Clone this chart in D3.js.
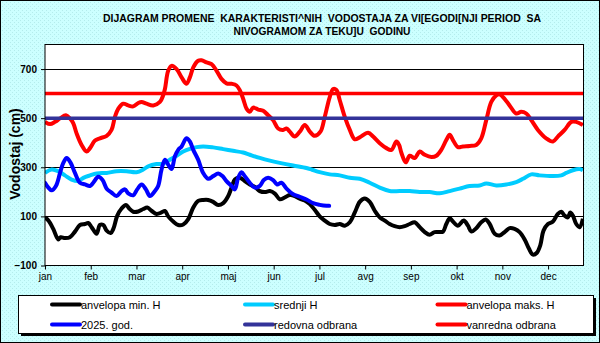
<!DOCTYPE html>
<html><head><meta charset="utf-8">
<script src="https://cdn.jsdelivr.net/npm/d3@7"></script>
<style>body{margin:0;padding:0;overflow:hidden}svg{display:block}</style>
</head><body>
<script>
const titleLines = ["DIJAGRAM PROMENE  KARAKTERISTI^NIH  VODOSTAJA ZA VI[EGODI[NJI PERIOD  SA", "NIVOGRAMOM ZA TEKU]U  GODINU"];
const yTitle = "Vodostaj (cm)";
const months = ["jan","feb","mar","apr","maj","jun","jul","avg","sep","okt","nov","dec"];
const yTicks = [-100, 100, 300, 500, 700];
const redovnaOdbrana = 500;
const vanrednaOdbrana = 600;

const maxDays = [0,3.4,6.8,10.2,14.2,16.9,19.2,21.4,24.8,28.2,30.5,33.9,37.2,41.8,45.1,47.4,49.7,53,56.4,59.8,63.2,65.5,68.8,73.4,77.9,80.1,81.3,83.5,85.8,89.2,92.6,95.9,98.2,100.5,103.8,106.1,109.5,112.9,116.3,119.6,123,126.4,129.8,132.1,134.3,136.6,138.8,141.1,144.5,147.9,151.2,154.6,158,161.4,163.7,165.9,169.3,172.7,176.1,179.5,182.8,186.7,189.6,193,195.3,197.5,199.8,203.2,206.6,210,213.3,219,222.4,226.9,231.4,234.8,238.2,240,241.6,244.5,247.2,250.6,254,257.4,261.9,265.3,268.6,272,274.3,276.5,279.9,283.3,287.8,292.3,295.7,299.1,302.5,305.9,308.1,311.5,314.9,319.4,322.8,326.2,329.6,334.1,339.7,344.3,347.6,352.2,356.7,360.1,364.6];
const maxVals = [485,476,485,499,512,499,479,438,391,364,378,409,418,428,452,505,539,559,552,548,562,566,559,552,566,593,619,693,713,700,666,640,666,707,734,736,727,720,693,660,642,640,633,613,579,539,526,543,535,530,512,492,458,452,458,445,425,445,472,445,428,445,505,586,619,615,573,505,452,414,422,441,425,398,378,371,405,391,358,320,347,338,364,351,342,347,371,411,432,411,382,385,387,391,418,492,566,593,597,579,552,519,526,519,492,452,418,405,425,452,485,485,472];

const meanDays = [0,4.5,9,13.5,18,22.6,26,30.5,35,41.8,48.5,55.3,62,66.6,70,75.6,80.1,84.7,89.2,93.7,98.2,102.7,107.2,114,120.8,127.5,134.3,138.8,145.6,152.4,159.1,168.2,177.2,181,186.2,193,199.8,206.6,213.3,220.1,226.9,233.6,240.4,247.2,254,260.7,267.5,274.3,281,287.8,294.6,299.1,305.9,312.7,319.4,324,329.6,335.2,344.3,349.9,353.3,357.8,362.3,364.6];
const meanVals = [277,291,284,267,250,244,257,267,275,277,284,284,280,291,304,313,315,331,347,364,375,382,385,381,374,367,360,351,338,327,318,307,297,290,280,271,267,257,253,237,217,203,203,203,199,199,194,203,213,224,226,234,226,230,240,253,271,267,264,267,277,288,293,288];

const minDays = [0,2.3,5.6,9,10.6,13.5,16.9,20.3,23.7,27.1,29.3,31.6,35,37.2,39.5,41.8,44.5,46.3,49,51.9,54.9,57.1,59.8,63.2,66.6,69.3,72.2,75.6,79,81.3,83.5,86.9,90.3,93.7,97.1,100.5,103.8,107.2,110.6,114,117.4,120.8,124.2,126.4,128.7,132.1,135.4,138.8,142.2,145.6,149,152.4,155.8,159.1,162.5,165.9,169.3,172.7,176.1,179.5,182.8,186.2,189.6,193,196.4,199.8,203.2,206.6,210,213.3,216.7,220.1,223.5,226.9,230.3,233.6,237,240.4,243.8,247.2,250.6,254,257.4,260.7,264.1,267.5,269.8,272,274.3,276.5,279.9,283.8,286.7,289,292.3,295.7,298.7,301.4,304.8,308.1,311.5,314.9,318.3,321.7,325.1,328,330.7,333.4,335.7,337.9,340.9,344.3,347.6,349.9,352.2,354.4,356,357.8,360.1,362.3,364.6];
const minVals = [96,83,49,6,15,12,15,38,65,69,73,56,29,65,65,42,32,49,103,132,146,132,119,120,130,136,123,110,116,122,100,79,65,67,89,136,163,167,167,159,146,154,183,217,250,257,244,230,220,203,199,203,193,170,177,187,183,172,165,150,127,100,83,69,65,69,62,76,116,159,173,159,123,96,83,69,60,56,60,69,76,56,36,25,36,36,38,69,92,79,62,83,62,38,52,76,87,69,29,22,36,52,49,36,6,-31,-56,-48,-18,42,69,79,110,119,103,96,116,103,69,56,90];

const curDays = [0,2.3,4.5,7.4,10.2,12.4,14.7,17.4,20.3,23.7,27.1,30.5,32.7,36.1,39,41.8,45.1,48.5,51.9,54.2,56.4,59.8,62.5,65.5,68.4,71.1,74.5,76.7,79,81.3,83.5,85.8,88,90.3,92.6,95.9,98.2,100.5,103.8,107.2,110.6,114,117.4,120.3,123,126.4,128.7,130.9,133.2,135.4,138.8,142.2,145.6,148.3,151.2,154.6,157.3,160.3,163.7,168.2,172.7,177.2,181.7,186.2,190.8,192.6];
const curVals = [237,217,206,224,277,318,338,318,277,237,230,224,237,261,248,213,197,183,203,210,194,186,210,230,210,183,203,224,291,331,311,293,344,371,385,418,405,371,331,277,253,264,275,264,244,224,210,257,280,264,237,217,224,248,257,248,230,237,213,190,180,169,154,147,143,143];

const W = 600, H = 343;
const svg = d3.select("body").append("svg").attr("width", W).attr("height", H);

const defs = svg.append("defs");
const pat = defs.append("pattern").attr("id","bgp").attr("width",4).attr("height",4).attr("patternUnits","userSpaceOnUse");
pat.append("rect").attr("width",4).attr("height",4).attr("fill","#ccffff");
pat.append("rect").attr("x",0).attr("y",0).attr("width",1).attr("height",1).attr("fill","#b4ecec");
pat.append("rect").attr("x",2).attr("y",2).attr("width",1).attr("height",1).attr("fill","#b4ecec");

svg.append("rect").attr("x",0.5).attr("y",0.5).attr("width",W-1).attr("height",H-1)
  .attr("fill","url(#bgp)").attr("stroke","#000").attr("stroke-width",1);

// title
const titleY = [22, 34.5];
const titleW = [438, 177];
titleLines.forEach((t,i)=>{
  svg.append("text").attr("x",322).attr("y",titleY[i]).attr("text-anchor","middle")
    .attr("xml:space","preserve").style("white-space","pre")
    .attr("font-family","Liberation Sans, Arial, sans-serif").attr("font-weight","bold").attr("font-size",11)
    .attr("textLength",titleW[i]).attr("lengthAdjust","spacingAndGlyphs").text(t);
});

const L = 45, R = 583.5, T = 44.5, B = 265.5;
const x = d3.scaleLinear().domain([0,365]).range([L,R]);
const y = d3.scaleLinear().domain([-100,800]).range([B,T]);

svg.append("rect").attr("x",L).attr("y",T).attr("width",R-L).attr("height",B-T).attr("fill","#fff");

// gridlines
svg.append("g").selectAll("line").data(yTicks.filter(v=>v>-100)).join("line")
  .attr("x1",L).attr("x2",R).attr("y1",d=>Math.round(y(d))+0.5).attr("y2",d=>Math.round(y(d))+0.5)
  .attr("stroke","#000").attr("stroke-width",1);

// y axis
const yAxis = svg.append("g").attr("transform",`translate(${L},0)`)
  .call(d3.axisLeft(y).tickValues(yTicks).tickSize(4).tickSizeOuter(0).tickPadding(4));
yAxis.select(".domain").remove();
yAxis.selectAll("text").attr("font-family","Liberation Sans, Arial, sans-serif").attr("font-weight","bold").attr("font-size",10).attr("fill","#000");

// x axis
const monthTicks = months.map((m,i)=>i*31);
const xAxis = svg.append("g").attr("transform",`translate(0,${B})`)
  .call(d3.axisBottom(x).tickValues(monthTicks).tickFormat((d,i)=>months[i]).tickSize(4).tickSizeOuter(0).tickPadding(3));
xAxis.select(".domain").remove();
xAxis.selectAll("text").attr("font-family","Liberation Sans, Arial, sans-serif").attr("font-size",10).attr("fill","#000");

// y title
svg.append("text").attr("transform","translate(20,154) rotate(-90)").attr("text-anchor","middle")
  .attr("font-family","Liberation Sans, Arial, sans-serif").attr("font-weight","bold").attr("font-size",14).text(yTitle);

// series
const line = d3.line().x(d=>x(d[0])).y(d=>y(d[1])).curve(d3.curveCatmullRom.alpha(0.5));
const zip = (a,b)=>a.map((d,i)=>[d,b[i]]);
const g = svg.append("g");
const clipId = "pc";
defs.append("clipPath").attr("id",clipId).append("rect").attr("x",L).attr("y",T).attr("width",R-L).attr("height",B-T);
g.attr("clip-path",`url(#${clipId})`);

g.append("path").datum(zip(minDays,minVals)).attr("d",line).attr("fill","none").attr("stroke","#000").attr("stroke-width",4).attr("stroke-linejoin","round");
g.append("path").datum(zip(meanDays,meanVals)).attr("d",line).attr("fill","none").attr("stroke","#00ccff").attr("stroke-width",4).attr("stroke-linejoin","round");
g.append("path").datum(zip(maxDays,maxVals)).attr("d",line).attr("fill","none").attr("stroke","#ff0000").attr("stroke-width",4).attr("stroke-linejoin","round");
g.append("line").attr("x1",L).attr("x2",R).attr("y1",y(redovnaOdbrana)).attr("y2",y(redovnaOdbrana)).attr("stroke","#333399").attr("stroke-width",3.5);
g.append("line").attr("x1",L).attr("x2",R).attr("y1",y(vanrednaOdbrana)).attr("y2",y(vanrednaOdbrana)).attr("stroke","#ff0000").attr("stroke-width",3.5);
g.append("path").datum(zip(curDays,curVals)).attr("d",line).attr("fill","none").attr("stroke","#0000ff").attr("stroke-width",4).attr("stroke-linejoin","round").attr("stroke-linecap","round");

// plot border
svg.append("rect").attr("x",L).attr("y",T).attr("width",R-L).attr("height",B-T).attr("fill","none").attr("stroke","#000").attr("stroke-width",1);

// legend
const legend = [
  {name:"anvelopa min. H", color:"#000000"},
  {name:"srednji H", color:"#00ccff"},
  {name:"anvelopa maks. H", color:"#ff0000"},
  {name:"2025. god.", color:"#0000ff"},
  {name:"redovna odbrana", color:"#333399"},
  {name:"vanredna odbrana", color:"#ff0000"}
];
svg.append("rect").attr("x",21).attr("y",298).attr("width",575).attr("height",38).attr("fill","#000");
svg.append("rect").attr("x",18.5).attr("y",295.5).attr("width",575).attr("height",38).attr("fill","#fff").attr("stroke","#000").attr("stroke-width",1);
const colX = [52, 245, 437.5];
const rowY = [304.5, 324.5];
legend.forEach((d,i)=>{
  const cx = colX[i%3], cy = rowY[Math.floor(i/3)];
  svg.append("line").attr("x1",cx).attr("x2",cx+28).attr("y1",cy).attr("y2",cy).attr("stroke",d.color).attr("stroke-width",4).attr("stroke-linecap","round");
  svg.append("text").attr("x",cx+29).attr("y",cy+4).attr("font-family","Liberation Sans, Arial, sans-serif").attr("font-size",11).attr("fill","#000").text(d.name);
});
</script>
</body></html>
